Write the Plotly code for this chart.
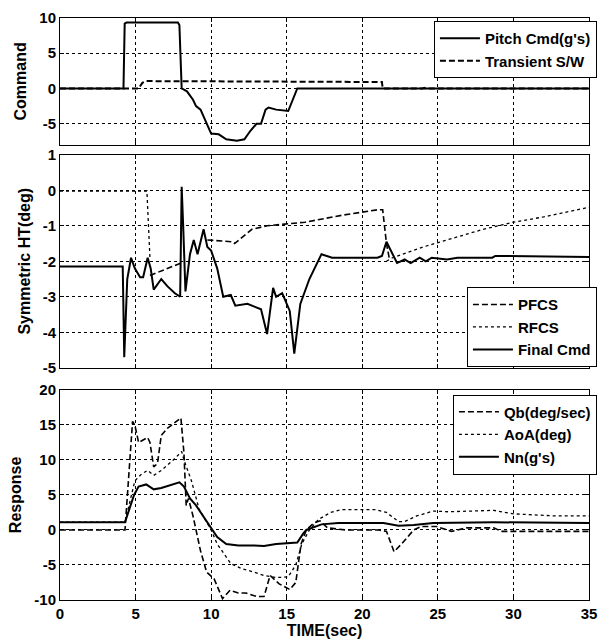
import plotly.graph_objects as go

# ---------------- data ----------------
# Panel 1: Command
t_pitch = [0, 4.2, 4.28, 4.4, 7.8, 7.9, 8.05, 8.4, 8.8, 9.0, 9.3, 9.6, 9.9, 10.0, 10.5, 11.0, 11.7, 12.2, 12.6, 13.0, 13.3, 13.6, 13.8, 14.3, 15.1, 15.3, 15.7, 24.0, 24.1, 24.2, 35]
pitch_cmd = [0, 0, 9.2, 9.35, 9.35, 9.0, 0, -0.4, -1.6, -2.5, -3.0, -4.5, -6.0, -6.4, -6.5, -7.2, -7.4, -7.2, -6.0, -5.0, -5.0, -3.0, -2.7, -3.0, -3.2, -2.2, 0, 0, 0.1, 0, 0]
t_sw = [0, 5.2, 5.45, 5.7, 21.3, 21.35, 35]
transient_sw = [0, 0, 0.8, 1.05, 0.92, 0, 0]

# Panel 2: Symmetric HT(deg)
t_final = [0, 4.15, 4.25, 4.45, 4.7, 4.95, 5.3, 5.5, 5.8, 6.0, 6.2, 6.7, 7.1, 7.6, 7.95, 8.05, 8.15, 8.3, 8.6, 8.85, 9.1, 9.5, 9.75, 10.0, 10.4, 10.8, 11.3, 11.6, 12.4, 13.3, 13.7, 14.1, 14.3, 14.7, 15.2, 15.5, 15.9, 16.5, 17.3, 18.0, 21.0, 21.3, 21.6, 22.3, 22.8, 23.2, 23.8, 24.2, 24.6, 25.6, 26.3, 28.6, 28.8, 35]
final_cmd = [-2.15, -2.15, -4.7, -2.5, -1.9, -2.2, -2.45, -2.45, -1.9, -2.2, -2.8, -2.5, -2.7, -2.9, -3.0, 0.1, -1.0, -2.85, -1.8, -1.4, -1.8, -1.1, -1.6, -1.7, -2.2, -3.0, -2.95, -3.25, -3.2, -3.35, -4.05, -2.75, -3.0, -2.9, -3.4, -4.6, -3.2, -2.5, -1.8, -1.9, -1.9, -1.85, -1.45, -2.05, -1.95, -2.05, -1.9, -2.0, -1.9, -1.95, -1.9, -1.9, -1.85, -1.88]
t_pfcs = [5.95, 8.0, None, 9.75, 11.4, 11.55, 12.0, 12.7, 13.7, 16.2, 18.7, 21.0, 21.35, 21.6, 21.8]
pfcs = [-2.4, -2.05, None, -1.4, -1.45, -1.5, -1.35, -1.1, -1.0, -0.9, -0.7, -0.55, -0.55, -1.5, -1.95]
t_rfcs = [0, 5.75, 5.95, None, 21.6, 22.0, 24.0, 26.0, 28.0, 30.0, 32.0, 35.0]
rfcs = [-0.02, -0.02, -1.9, None, -2.0, -1.9, -1.6, -1.35, -1.1, -0.9, -0.75, -0.48]

# Panel 3: Response
t_qb = [0, 4.3, 4.8, 4.95, 5.2, 5.8, 5.95, 6.2, 6.45, 6.7, 7.1, 7.7, 8.0, 8.2, 8.35, 8.5, 8.8, 9.3, 9.7, 10.2, 10.75, 11.25, 11.8, 12.3, 13.0, 13.5, 13.9, 14.5, 15.2, 15.6, 15.95, 16.3, 16.8, 17.2, 17.7, 18.9, 21.1, 21.6, 22.1, 22.6, 23.4, 23.9, 24.9, 25.9, 26.9, 28.7, 29.2, 35]
qb = [0, 0, 15.5, 15.0, 12.5, 13.2, 12.5, 9.0, 9.5, 13.5, 14.5, 15.5, 16.0, 11.0, 3.5, 4.5, 2.0, -3.0, -6.0, -7.0, -9.8, -8.6, -9.0, -9.0, -9.5, -9.5, -6.5, -7.7, -8.5, -7.5, -2.0, 0, 1.0, 1.3, 0.3, 0, 0, -0.2, -3.1, -2.0, 0, 0.5, 0.5, -0.2, 0.3, 0.3, -0.2, -0.2]
t_aoa = [0, 4.3, 4.95, 5.4, 5.8, 6.2, 6.7, 7.5, 8.05, 8.2, 8.7, 9.2, 10.0, 10.4, 11.3, 12.0, 12.8, 13.5, 14.3, 15.1, 15.6, 16.0, 16.5, 17.1, 17.9, 18.6, 20.9, 21.6, 22.4, 22.8, 23.6, 24.7, 25.7, 27.7, 28.7, 30.0, 32.8, 35]
aoa = [1.1, 1.1, 7.0, 8.0, 8.5, 7.8, 8.5, 10.0, 11.2, 10.0, 7.0, 3.0, 0, -2.0, -4.8, -5.5, -6.0, -6.5, -6.8, -6.7, -5.0, -2.0, 0, 1.5, 2.5, 2.9, 2.9, 2.5, 1.2, 1.2, 2.0, 2.7, 2.6, 2.7, 2.8, 2.3, 2.0, 2.0]
t_nn = [0, 4.3, 4.9, 5.2, 5.7, 6.2, 6.7, 7.5, 7.9, 8.2, 8.6, 9.0, 9.4, 9.9, 10.4, 11.0, 11.8, 12.8, 13.5, 14.3, 15.3, 15.7, 16.1, 16.3, 17.3, 18.4, 21.4, 22.4, 23.4, 24.7, 28.7, 35]
nn = [1.1, 1.1, 5.0, 6.2, 6.5, 5.8, 6.0, 6.5, 6.8, 6.2, 4.5, 3.5, 2.2, 0.5, -1.0, -2.0, -2.2, -2.2, -2.3, -2.0, -1.9, -1.8, -0.5, 0, 0.8, 1.0, 1.0, 0.6, 0.7, 1.0, 1.1, 1.0]

x_ticks = [0, 5, 10, 15, 20, 25, 30, 35]
y1_ticks = [10, 5, 0, -5]
y2_ticks = [1, 0, -1, -2, -3, -4, -5]
y3_ticks = [20, 15, 10, 5, 0, -5, -10]

# ---------------- figure ----------------
FONT = "Liberation Sans"
fig = go.Figure()

def add(x, y, name, dash, width, xa, ya, legend):
    fig.add_trace(go.Scatter(x=x, y=y, name=name, mode="lines", xaxis=xa, yaxis=ya,
                             legend=legend, connectgaps=False,
                             line=dict(color="black", dash=dash, width=width)))

DASH = "6px,3px"
add(t_pitch, pitch_cmd, "Pitch Cmd(g's)", "solid", 2, "x", "y", "legend")
add(t_sw, transient_sw, "Transient S/W", DASH, 2, "x", "y", "legend")

add(t_pfcs, pfcs, "PFCS", DASH, 1.6, "x2", "y2", "legend2")
add(t_rfcs, rfcs, "RFCS", "dot", 1.3, "x2", "y2", "legend2")
add(t_final, final_cmd, "Final Cmd", "solid", 2, "x2", "y2", "legend2")

add(t_qb, qb, "Qb(deg/sec)", DASH, 1.6, "x3", "y3", "legend3")
add(t_aoa, aoa, "AoA(deg)", "dot", 1.3, "x3", "y3", "legend3")
add(t_nn, nn, "Nn(g's)", "solid", 2, "x3", "y3", "legend3")

tickfont = dict(family=FONT, size=15, color="black", weight="bold")
titlefont = dict(family=FONT, size=16, color="black", weight="bold")

def xaxis(show_labels, anchor):
    d = dict(range=[0, 35], tickvals=x_ticks, ticktext=[str(v) for v in x_ticks],
             showticklabels=show_labels, anchor=anchor, showline=True, mirror="ticks",
             linecolor="black", linewidth=1, ticks="inside", ticklen=4, tickcolor="black",
             showgrid=True, gridcolor="black", gridwidth=1, griddash="3px,3px",
             zeroline=False, tickfont=tickfont)
    return d

def yaxis(rng, ticks, title, domain, anchor):
    return dict(range=rng, tickvals=ticks, ticktext=[str(v) for v in ticks], domain=domain,
                anchor=anchor, showline=True, mirror="ticks", linecolor="black", linewidth=1,
                ticks="inside", ticklen=4, tickcolor="black",
                showgrid=True, gridcolor="black", gridwidth=1, griddash="3px,3px",
                zeroline=False, tickfont=tickfont,
                title=dict(text=title, font=titlefont, standoff=8))

legend_common = dict(bgcolor="white", bordercolor="black", borderwidth=1,
                     font=dict(family=FONT, size=15, color="black", weight="bold"),
                     xanchor="right", x=1.015, tracegroupgap=0, itemwidth=40)

fig.update_layout(
    width=606, height=644,
    margin=dict(l=60, r=9, t=17, b=40),
    paper_bgcolor="white", plot_bgcolor="white",
    showlegend=True,
    xaxis=xaxis(False, "y"),
    xaxis2=dict(xaxis(False, "y2"), matches="x"),
    xaxis3=dict(xaxis(True, "y3"), matches="x",
                title=dict(text="TIME(sec)", font=titlefont, standoff=2)),
    yaxis=yaxis([-8, 10], y1_ticks, "Command", [0.782, 1.0], "x"),
    yaxis2=yaxis([-5, 1], y2_ticks, "Symmetric HT(deg)", [0.399, 0.765], "x2"),
    yaxis3=yaxis([-10, 20], y3_ticks, "Response", [0.0, 0.361], "x3"),
    legend=dict(legend_common, y=0.995, yanchor="top"),
    legend2=dict(legend_common, y=0.40, yanchor="bottom"),
    legend3=dict(legend_common, y=0.353, yanchor="top"),
)

fig.write_html("out.html")
